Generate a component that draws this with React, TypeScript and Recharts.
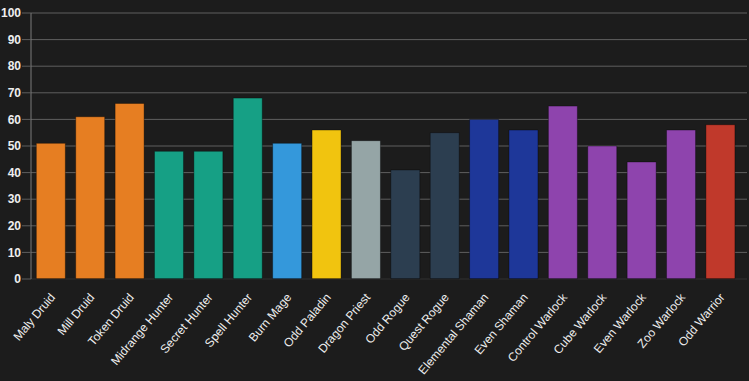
import React from "react";
import { BarChart, Bar, XAxis, YAxis, CartesianGrid, Cell } from "recharts";

const categories = [
  "Maly Druid", "Mill Druid", "Token Druid", "Midrange Hunter", "Secret Hunter", "Spell Hunter",
  "Burn Mage", "Odd Paladin", "Dragon Priest", "Odd Rogue", "Quest Rogue", "Elemental Shaman",
  "Even Shaman", "Control Warlock", "Cube Warlock", "Even Warlock", "Zoo Warlock", "Odd Warrior",
];
const values = [51, 61, 66, 48, 48, 68, 51, 56, 52, 41, 55, 60, 56, 65, 50, 44, 56, 58];
const colors = [
  "#e67e22", "#e67e22", "#e67e22", "#16a085", "#16a085", "#16a085",
  "#3498db", "#f1c40f", "#95a5a6", "#2c3e50", "#2c3e50", "#1e3799",
  "#1e3799", "#8e44ad", "#8e44ad", "#8e44ad", "#8e44ad", "#c0392b",
];
const yTicks = [0, 10, 20, 30, 40, 50, 60, 70, 80, 90, 100];

const data = categories.map((name, i) => ({ name, value: values[i] }));

const XTick = (props: any) => {
  const { x, y, payload } = props;
  return (
    <g transform={`translate(${x + 2},${y + 8})`}>
      <text
        transform="rotate(-50)"
        textAnchor="end"
        fill="#eeeeee"
        fontSize={12}
        fontFamily="'Liberation Sans', Arial, sans-serif"
        dy={4}
      >
        {payload.value}
      </text>
    </g>
  );
};

export default function App() {
  return (
    <div style={{ position: "fixed", left: 0, top: 0, width: 749, height: 381, background: "#1c1c1c" }}>
      <BarChart
        width={749}
        height={381}
        data={data}
        margin={{ top: 13, right: 2, left: 0, bottom: 0 }}
        barCategoryGap="13.5%"
      >
        <CartesianGrid stroke="#5f5f5f" vertical={false} />
        <XAxis
          dataKey="name"
          interval={0}
          height={102}
          padding={{ left: 0, right: 7 }}
          tick={<XTick />}
          tickLine={false}
          axisLine={{ stroke: "#111111" }}
        />
        <YAxis
          width={31}
          domain={[0, 100]}
          ticks={yTicks}
          interval={0}
          tickSize={9}
          tickMargin={1}
          tickLine={{ stroke: "#5f5f5f" }}
          axisLine={{ stroke: "#7a7a7a" }}
          tick={{ fill: "#eeeeee", fontSize: 12, fontWeight: "bold", fontFamily: "'Liberation Sans', Arial, sans-serif" }}
        />
        <Bar dataKey="value" isAnimationActive={false} strokeWidth={1}>
          {data.map((d, i) => (
            <Cell key={d.name} fill={colors[i]} stroke="rgba(0,0,0,0.35)" />
          ))}
        </Bar>
      </BarChart>
    </div>
  );
}
